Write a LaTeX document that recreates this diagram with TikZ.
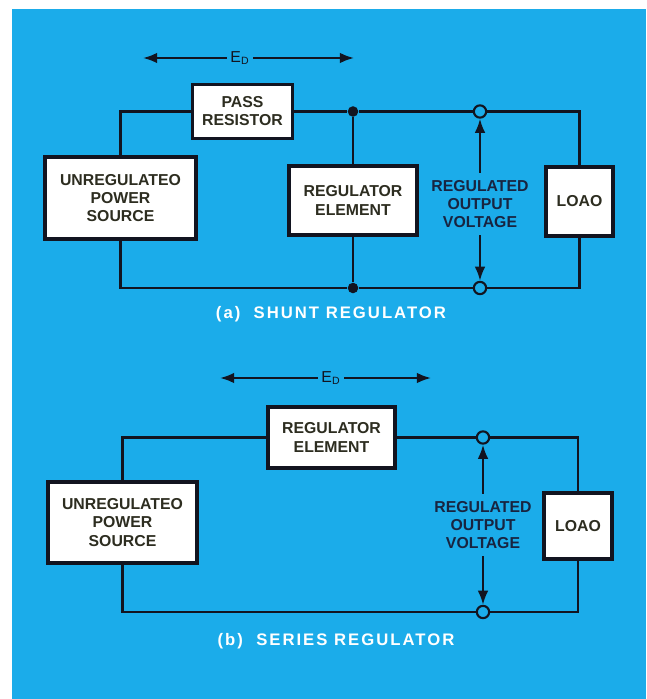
\documentclass[tikz,border=0pt]{standalone}
\usepackage{fontspec}
\setmainfont{Liberation Sans}
\newfontfamily\capfont{Liberation Sans}[LetterSpace=12]
\usetikzlibrary{arrows.meta,positioning}
\definecolor{panel}{RGB}{27,172,234}
\definecolor{ink}{RGB}{18,20,32}
\definecolor{boxtext}{RGB}{45,45,32}
\definecolor{vtext}{RGB}{24,36,64}

\begin{document}
\begin{tikzpicture}[
    x=0.02cm, y=-0.02cm,
    blk/.style={rectangle, draw=ink, line width=2.1pt, fill=white, align=center, text=boxtext, font=\bfseries\fontsize{9}{10.3}\selectfont, inner sep=0pt},
    vlabel/.style={align=center, text=vtext, font=\bfseries\fontsize{9}{10.3}\selectfont, inner sep=4pt},
    edlabel/.style={text=ink, font=\fontsize{9}{10}\selectfont, inner sep=2pt},
    caption/.style={text=white, font=\capfont\bfseries\fontsize{9.5}{11}\selectfont, inner sep=0pt},
    wire/.style={draw=ink, line width=1.4pt},
    arrow/.style={-{Latex[length=8pt,width=6pt]}, line width=1.2pt, draw=ink},
    joint/.style={circle, fill=ink, minimum size=6pt, inner sep=0pt},
    term/.style={circle, draw=ink, line width=1.2pt, fill=panel, minimum size=7pt, inner sep=0pt},
]
    \useasboundingbox (0,0) rectangle (646,699);
    \fill[white] (0,0) rectangle (646,699);
    \fill[panel] (12,9) rectangle (646,699);

    % (a) shunt regulator
    \node[blk, minimum width=2cm, minimum height=1.08cm] (pass) at (242.5,111.5) {PASS\\RESISTOR};
    \node[blk, minimum width=3.02cm, minimum height=1.64cm] (srca) at (120.5,198) {UNREGULATEO\\POWER\\SOURCE};
    \node[blk, minimum width=2.56cm, minimum height=1.38cm] (rega) at (353,200.5) {REGULATOR\\ELEMENT};
    \node[blk, minimum width=1.34cm, minimum height=1.38cm] (loada) at (579.5,201.5) {LOAO};
    \node[joint] (ja) at (353,111.5) {};
    \node[joint] (jb) at (353,288) {};
    \node[term] (ta) at (480,111.5) {};
    \node[term] (ba) at (480,288) {};
    \node[vlabel] (vlta) at (480,204) {REGULATED\\OUTPUT\\VOLTAGE};

    \node[edlabel] (eda) at (240,58) {E\textsubscript{D}};
    \coordinate (edaL) at (143,58);
    \coordinate (edaR) at (354,58);
    \draw[arrow] (eda) -- (edaL);
    \draw[arrow] (eda) -- (edaR);

    \draw[wire] (srca.north) |- (pass.west);
    \draw[wire] (pass.east) -- (ja) -- (ta) -| (loada.north);
    \draw[wire] (srca.south) |- (jb) -- (ba) -| (loada.south);
    \draw[wire] (ja) -- (rega) -- (jb);
    \draw[arrow] (vlta) -- (ta);
    \draw[arrow] (vlta) -- (ba);

    \node[caption] (capa) at (331,314) {(a)\ \ SHUNT REGULATOR};

    % (b) series regulator
    \node[blk, minimum width=2.54cm, minimum height=1.22cm] (regb) at (331.5,437.5) {REGULATOR\\ELEMENT};
    \node[blk, minimum width=2.98cm, minimum height=1.62cm] (srcb) at (122.5,522.5) {UNREGULATEO\\POWER\\SOURCE};
    \node[blk, minimum width=1.36cm, minimum height=1.32cm] (loadb) at (578,526) {LOAO};
    \node[term] (tb) at (483,437.5) {};
    \node[term] (bb) at (483,612) {};
    \node[vlabel] (vltb) at (483,525) {REGULATED\\OUTPUT\\VOLTAGE};

    \node[edlabel] (edb) at (331,378) {E\textsubscript{D}};
    \coordinate (edbL) at (220,378);
    \coordinate (edbR) at (431,378);
    \draw[arrow] (edb) -- (edbL);
    \draw[arrow] (edb) -- (edbR);

    \draw[wire] (srcb.north) |- (regb.west);
    \draw[wire] (regb.east) -- (tb) -| (loadb.north);
    \draw[wire] (srcb.south) |- (bb) -| (loadb.south);
    \draw[arrow] (vltb) -- (tb);
    \draw[arrow] (vltb) -- (bb);

    \node[caption] (capb) at (336,641) {(b)\ \ SERIES REGULATOR};
\end{tikzpicture}
\end{document}
